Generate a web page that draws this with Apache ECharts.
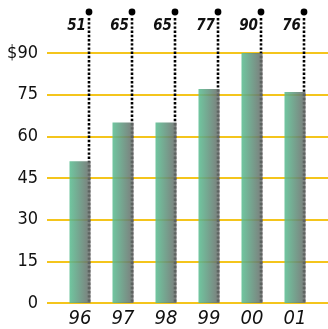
<!DOCTYPE html>
<html>
<head>
<meta charset="utf-8">
<script src="https://cdn.jsdelivr.net/npm/echarts@6/dist/echarts.min.js"></script>
<style>
  html, body { margin: 0; padding: 0; background: #fff; }
  #main { width: 328px; height: 329px; }
</style>
</head>
<body>
<div id="main"></div>
<script>
// data
var years = ['96', '97', '98', '99', '00', '01'];
var values = [51, 65, 65, 77, 90, 76];
var yTicks = [0, 15, 30, 45, 60, 75, 90];

var narrow = '"DejaVu Sans Condensed", "Liberation Sans Narrow", sans-serif';
var chart = echarts.init(document.getElementById('main'), null, { renderer: 'canvas' });

var barColor = new echarts.graphic.LinearGradient(0, 0, 1, 0, [
  { offset: 0, color: '#5cbe92' },
  { offset: 1, color: '#6a6a6a' }
]);

var option = {
  animation: false,
  grid: [
    { left: 47, right: 0, top: 53, bottom: 26 },   // gridlines + y labels
    { left: 58.5, right: 11.5, top: 53, bottom: 26 } // bars
  ],
  xAxis: [
    { gridIndex: 0, type: 'value', show: false, min: 0, max: 1 },
    {
      gridIndex: 1, type: 'category', data: years,
      axisLine: { show: false }, axisTick: { show: false },
      axisLabel: {
        margin: 6, color: '#111', fontSize: 20, fontStyle: 'italic',
        fontFamily: narrow
      }
    }
  ],
  yAxis: [
    {
      gridIndex: 0, type: 'value', min: 0, max: 90, interval: 15,
      axisLine: { show: false }, axisTick: { show: false },
      splitLine: { lineStyle: { color: '#f4c51c', width: 2 } },
      axisLabel: {
        margin: 9, color: '#111', fontSize: 18, fontFamily: narrow,
        formatter: function (v) { return v === 90 ? '$' + v : '' + v; }
      }
    },
    { gridIndex: 1, type: 'value', min: 0, max: 90, show: false }
  ],
  series: [
    {
      type: 'bar', xAxisIndex: 1, yAxisIndex: 1,
      data: values, barWidth: 21,
      itemStyle: { color: barColor, opacity: 0.88 }
    },
    {
      // dotted leader line, top dot and value label for each bar
      type: 'custom', xAxisIndex: 1, yAxisIndex: 1,
      data: values.map(function (v, i) { return [i, v]; }),
      renderItem: function (params, api) {
        var base = api.coord([api.value(0), 0]);
        var x = base[0] + 9;
        var topY = params.coordSys.y - 41;
        return {
          type: 'group',
          children: [
            {
              type: 'line',
              shape: { x1: x, y1: topY + 6, x2: x, y2: base[1] },
              style: { stroke: '#000', lineWidth: 2.6, lineDash: [2.4, 1.8] }
            },
            {
              type: 'circle',
              shape: { cx: x, cy: topY, r: 3.4 },
              style: { fill: '#000' }
            },
            {
              type: 'text',
              x: x - 3, y: topY + 14,
              style: {
                text: '' + api.value(1), fill: '#111',
                font: 'italic bold 15px "DejaVu Sans Condensed", "Liberation Sans", sans-serif',
                align: 'right', verticalAlign: 'middle'
              }
            }
          ]
        };
      }
    }
  ]
};

chart.setOption(option);
</script>
</body>
</html>
